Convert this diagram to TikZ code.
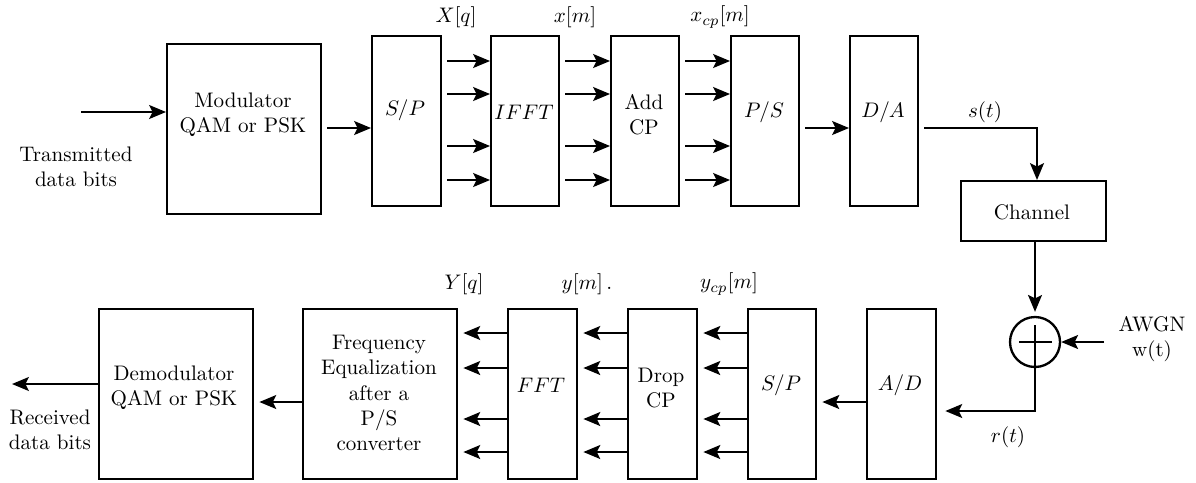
\documentclass[tikz,border=0pt]{standalone}
\usetikzlibrary{arrows.meta,calc}
\newdimen\ux \ux=0.475pt
\begin{document}
\begin{tikzpicture}[x=0.475pt,y=-0.475pt,
  blk/.style={draw, line width=1.1pt, inner sep=0pt, anchor=north west},
  tbox/.style={blk, minimum width=68*\ux, minimum height=170*\ux},
  bigbox/.style={blk, minimum width=154*\ux, minimum height=170*\ux},
  txt/.style={inner sep=0pt, align=center},
  arr/.style={line width=1.05pt, -{Stealth[length=8pt,width=6.6pt,inset=1.6pt]}},
  fwd/.style={arr, shorten <=2.4pt},
  bwd/.style={arr, shorten >=2.4pt}]
\useasboundingbox (0,0) rectangle (1196,482);

% ---- transmitter boxes
\node[bigbox] (mod) at (166,43) {};
\node[tbox, minimum width=69*\ux] (sp) at (371,35) {};
\node[tbox] (ifft) at (490,35) {};
\node[tbox] (add) at (610,35) {};
\node[tbox] (ps) at (730,35) {};
\node[tbox] (da) at (849,35) {};
\node[blk, minimum width=145*\ux, minimum height=60*\ux] (chan) at (960,180) {};
\node[draw, circle, line width=1.1pt, minimum size=50*\ux, inner sep=0pt] (sum) at (1035,342) {};

% ---- receiver boxes
\node[bigbox] (demod) at (98,308) {};
\node[bigbox] (feq) at (302,308) {};
\node[tbox, minimum width=69*\ux] (fft) at (507,308) {};
\node[tbox, minimum width=69*\ux] (drop) at (627,308) {};
\node[tbox] (sp2) at (747,308) {};
\node[tbox, minimum width=69*\ux] (ad) at (866,308) {};

% ---- texts
\node[txt] (tin) at (76,167) {Transmitted\\data bits};
\node[txt] (modt) at (243,115) {Modulator\\QAM or PSK};
\node[txt] (spt) at (405,110) {$S/P$};
\node[txt] (ifftt) at (524,112) {$IFFT$};
\node[txt] (addt) at (644,115) {Add\\CP};
\node[txt] (pst) at (764,112) {$P/S$};
\node[txt] (dat) at (883,112) {$D/A$};
\node[txt] (chant) at (1032,212) {Channel};
\node[txt] (lXq) at (456,17) {$X[q]$};
\node[txt] (lxm) at (575,17) {$x[m]$};
\node[txt] (lxcp) at (720,17) {$x_{cp}[m]$};
\node[txt] (lst) at (985,112) {$s(t)$};
\node[txt] (awgnt) at (1152,339) {AWGN\\w(t)};
\node[txt] (lrt) at (1008,437) {$r(t)$};

\node[txt] (adt) at (900,385) {$A/D$};
\node[txt] (sp2t) at (781,385) {$S/P$};
\node[txt] (dropt) at (661,388) {Drop\\CP};
\node[txt] (fftt) at (541,385) {$FFT$};
\node[txt] (feqt) at (379,393) {Frequency\\Equalization\\after a\\P/S\\converter};
\node[txt] (demodt) at (174,388) {Demodulator\\QAM or PSK};
\node[txt] (rout) at (50,430) {Received\\data bits};
\node[txt] (lYq) at (464,284) {$Y[q]$};
\node[txt] (lym) at (587,284) {$y[m]$\,.};
\node[txt] (lycp) at (729,284) {$y_{cp}[m]$};

% ---- transmitter connectors
\coordinate (inbits) at (81,112);
\draw[arr] (inbits) -- (mod.west |- inbits);
\draw[fwd] (mod.east |- 0,128) -- (sp.west |- 0,128);
\foreach \y in {61,94,146,180} {
  \draw[fwd] (sp.east |- 0,\y) -- (ifft.west |- 0,\y);
  \draw[fwd] (ifft.east |- 0,\y) -- (add.west |- 0,\y);
  \draw[fwd] (add.east |- 0,\y) -- (ps.west |- 0,\y);
}
\draw[fwd] (ps.east |- 0,128) -- (da.west |- 0,128);
\draw[fwd] (da.east |- 0,128) -| (chan.north -| 1037,0);

% ---- channel, noise, adder
\draw[arr, shorten >=1.9pt] (chan.south -| sum.north) -- (sum.north);
\coordinate (awgn) at (1104,342);
\draw[arr] (awgn) -- (sum.east);
\draw[line width=1.05pt] ($(sum.center)+(-16,0)$) -- ($(sum.center)+(17,0)$);
\draw[arr, shorten >=3.8pt] ($(sum.center)+(0,-17)$) |- (ad.east |- 0,411);

% ---- receiver connectors
\draw[bwd] (ad.west |- 0,402) -- (sp2.east |- 0,402);
\foreach \y in {333,368,419,452} {
  \draw[bwd] (sp2.west |- 0,\y) -- (drop.east |- 0,\y);
  \draw[bwd] (drop.west |- 0,\y) -- (fft.east |- 0,\y);
  \draw[bwd] (fft.west |- 0,\y) -- (feq.east |- 0,\y);
}
\draw[bwd] (feq.west |- 0,402) -- (demod.east |- 0,402);
\coordinate (outbits) at (12,384);
\draw[arr] (demod.west |- outbits) -- (outbits);
\end{tikzpicture}
\end{document}
